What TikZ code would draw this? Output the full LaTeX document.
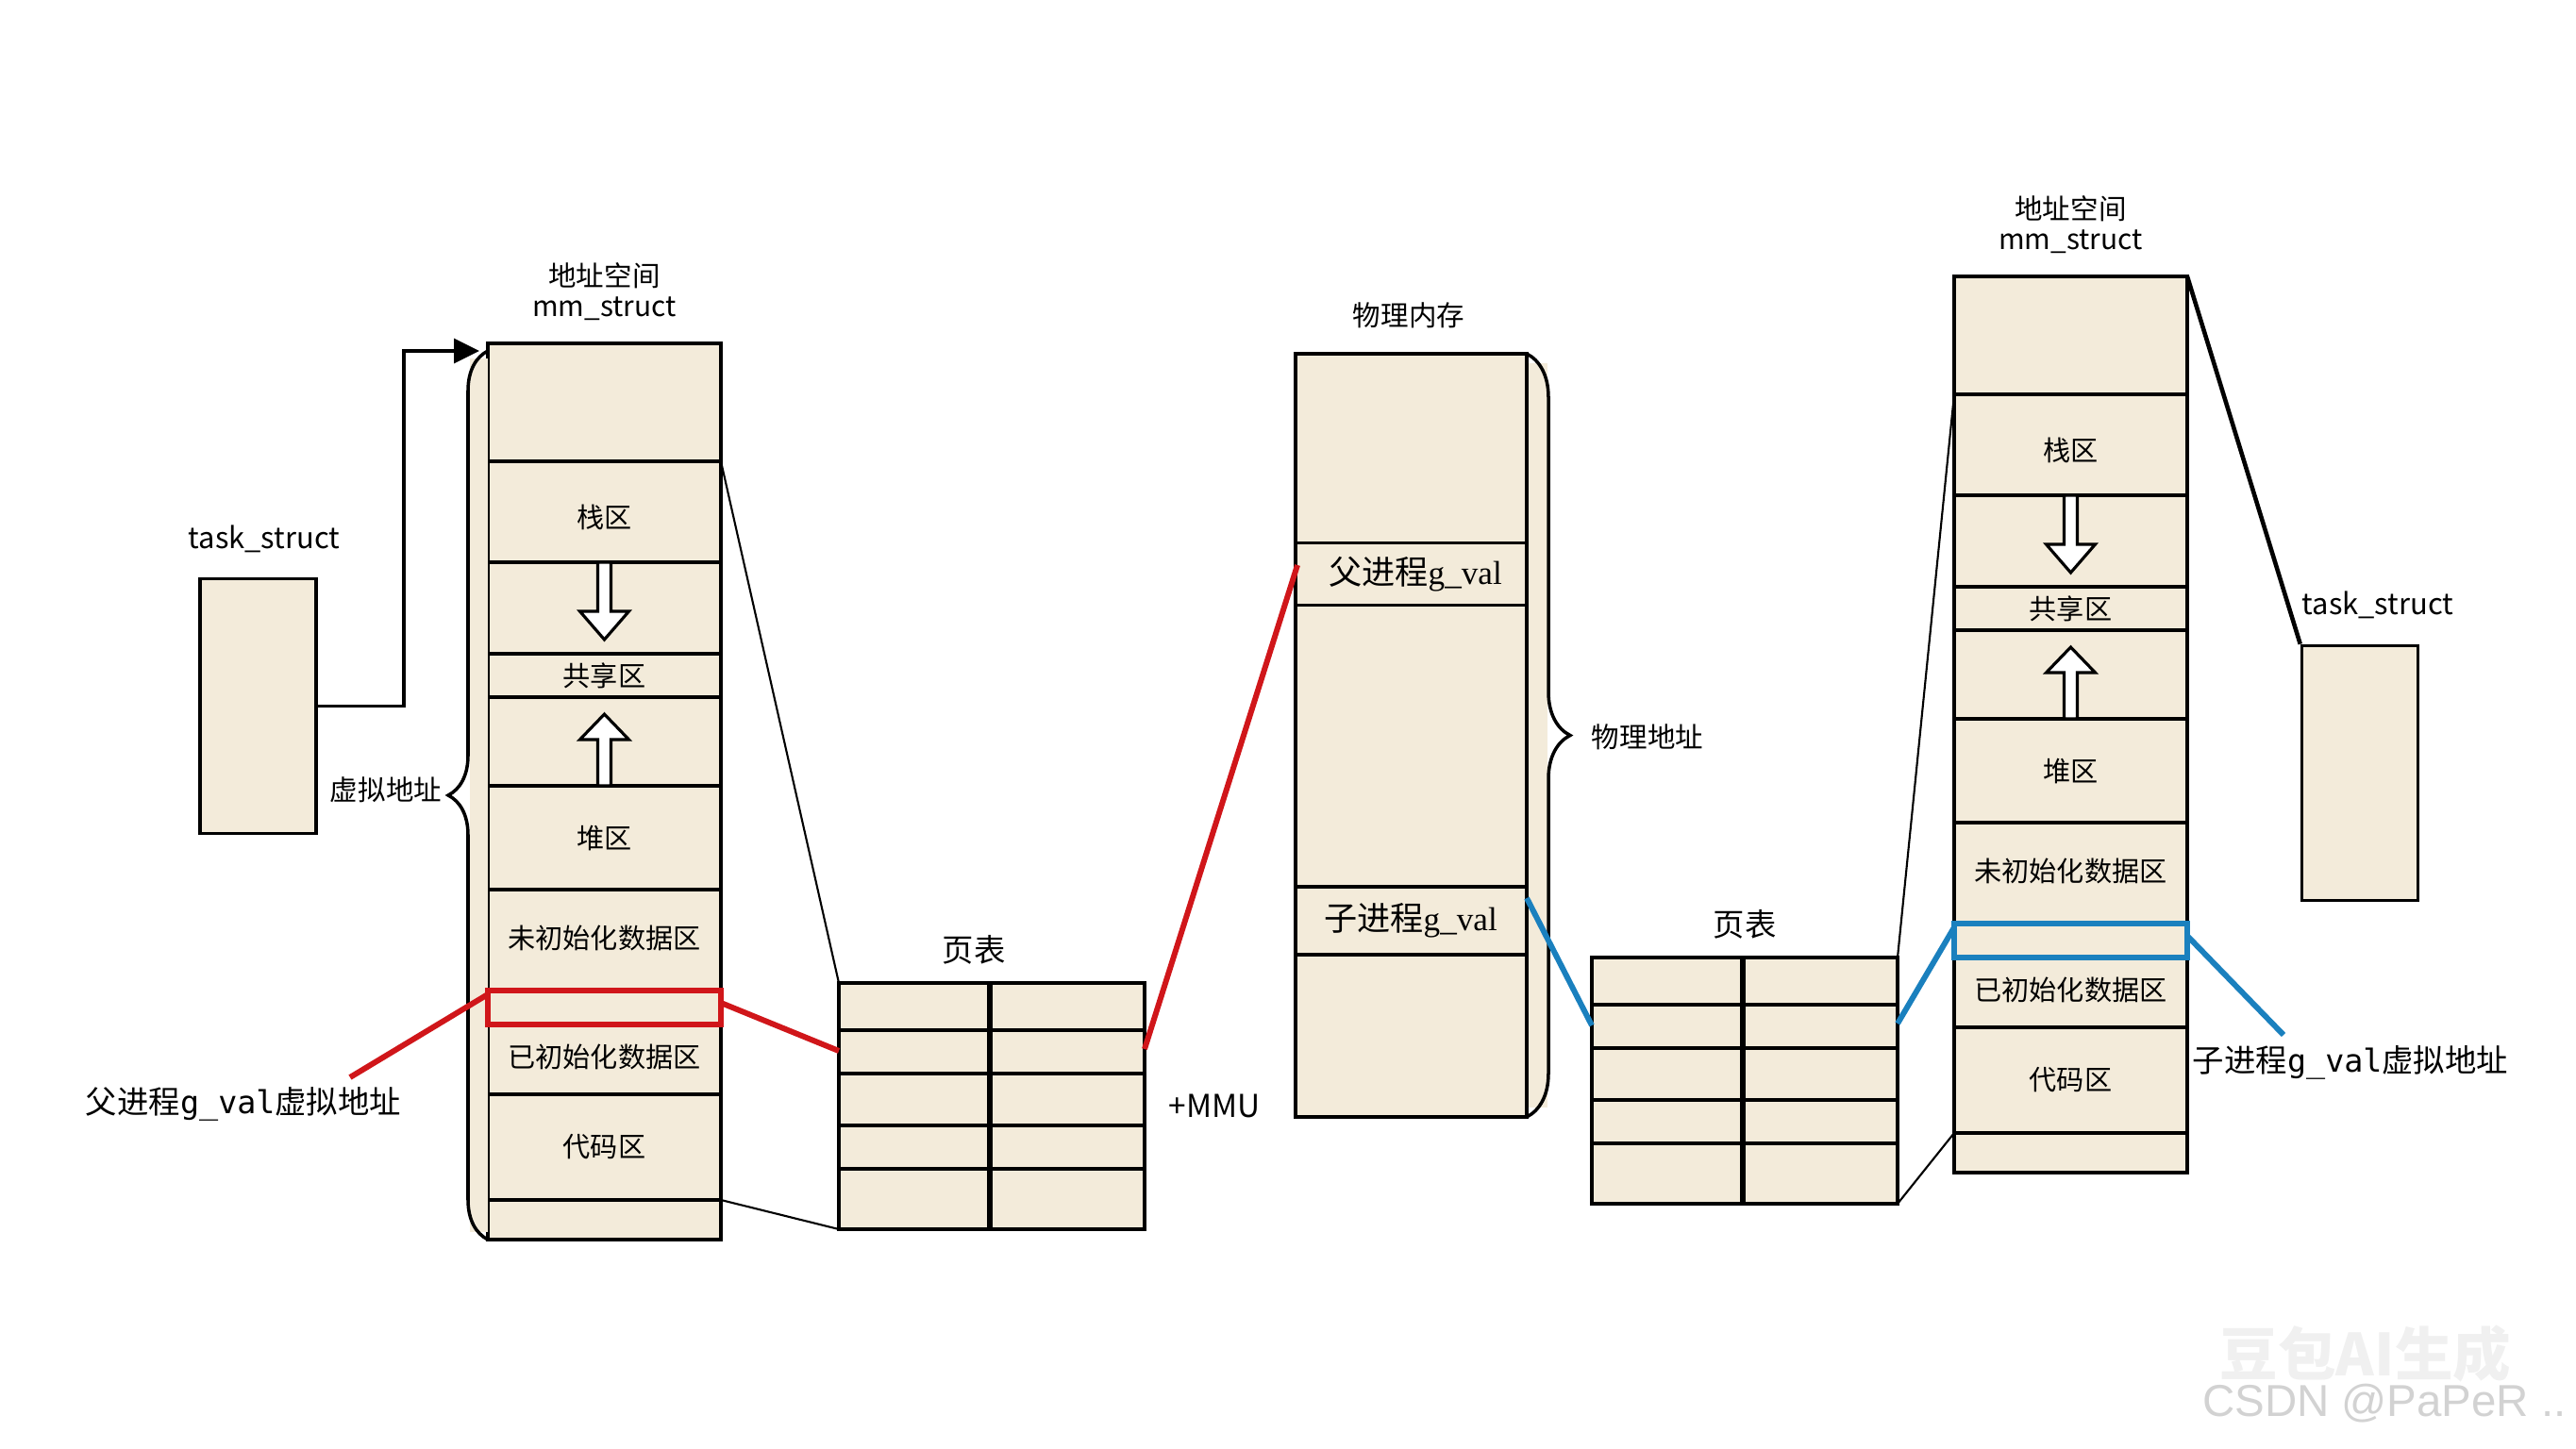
\documentclass[tikz,border=0pt]{standalone}
\usepackage{fontspec}
\setmainfont{Noto Sans CJK SC}
\newfontfamily\valfont{Liberation Serif}
\newfontfamily\monofont{DejaVu Sans Mono}
\newfontfamily\wmfont{Liberation Sans}
\usetikzlibrary{positioning}
\usetikzlibrary{calc}
\usetikzlibrary{arrows.meta}
\usetikzlibrary{decorations.pathreplacing}
\definecolor{cell}{RGB}{243,235,218}
\definecolor{red}{RGB}{208,22,26}
\definecolor{blue}{RGB}{26,128,190}

\begin{document}
\begin{tikzpicture}[
    cellbox/.style={draw, fill=cell, line width=1pt},
    tablebox/.style={draw, fill=cell, line width=1.2pt},
    taskbox/.style={draw, fill=cell, line width=1pt, inner sep=0pt, minimum width=1.23cm, minimum height=2.70cm},
    hollow/.style={draw, fill=white, line width=0.9pt},
    areatxt/.style={font=\fontsize{8.3}{9}\selectfont, inner sep=0pt},
    captxt/.style={font=\fontsize{8.4}{9}\selectfont, inner sep=0pt},
    latintxt/.style={font=\fontsize{8.8}{10}\selectfont, inner sep=0pt},
    bigtxt/.style={font=\fontsize{9.5}{11}\selectfont, inner sep=0pt},
    memtxt/.style={font=\fontsize{10}{12}\selectfont, inner sep=0pt},
    thinline/.style={line width=0.6pt},
    redline/.style={red, line width=1.7pt},
    blueline/.style={blue, line width=1.7pt}
]
\useasboundingbox (0,0) rectangle (27.30,-15.35);

% address spaces: parent (L) and child (R)
\foreach \n/\x/\y in {L/5.17/-3.64, R/20.71/-2.93} {
    \draw[cellbox] (\x,\y) rectangle ++(2.47,-9.50);
    \foreach \r in {1.25,2.32,3.29,3.75,4.69,5.79,6.86,7.22,7.96,9.08}
        \draw[line width=1pt] (\x,\y-\r) -- ++(2.47,0);
    \node[captxt] (space\n) at (\x+1.235,\y+0.72) {地址空间};
    \node[latintxt, font=\fontsize{8.5}{10}\selectfont] (mm\n) at (\x+1.235,\y+0.37) {mm\_struct};
    \node[areatxt] (stack\n) at (\x+1.235,\y-1.84) {栈区};
    \node[areatxt] (shared\n) at (\x+1.235,\y-3.52) {共享区};
    \node[areatxt] (heap\n) at (\x+1.235,\y-5.24) {堆区};
    \node[areatxt] (bss\n) at (\x+1.235,\y-6.30) {未初始化数据区};
    \node[areatxt] (data\n) at (\x+1.235,\y-7.56) {已初始化数据区};
    \node[areatxt] (text\n) at (\x+1.235,\y-8.52) {代码区};
    % stack grows down, heap grows up
    \draw[hollow] (\x+1.165,\y-2.32) -- (\x+1.165,\y-2.84) -- (\x+0.975,\y-2.84) -- (\x+1.235,\y-3.14)
        -- (\x+1.495,\y-2.84) -- (\x+1.305,\y-2.84) -- (\x+1.305,\y-2.32) -- cycle;
    \draw[hollow] (\x+1.165,\y-4.69) -- (\x+1.165,\y-4.20) -- (\x+0.975,\y-4.20) -- (\x+1.235,\y-3.93)
        -- (\x+1.495,\y-4.20) -- (\x+1.305,\y-4.20) -- (\x+1.305,\y-4.69) -- cycle;
    \coordinate (\n-top-e) at (\x+2.47,\y);
    \coordinate (\n-stk-w) at (\x,\y-1.25);
    \coordinate (\n-stk-e) at (\x+2.47,\y-1.25);
    \coordinate (\n-bot-w) at (\x,\y-9.08);
    \coordinate (\n-bot-e) at (\x+2.47,\y-9.08);
    \coordinate (\n-hl-nw) at (\x,\y-6.86);
    \coordinate (\n-hl-se) at (\x+2.47,\y-7.22);
    \coordinate (\n-hl-w) at (\x,\y-6.90);
    \coordinate (\n-hl-e) at (\x+2.47,\y-6.99);
}

% virtual address brace
\fill[cell] (4.98,-3.80) rectangle (5.17,-13.06);
\draw[line width=1pt, decorate, decoration={brace, amplitude=0.42cm}] (5.17,-13.14) -- (5.17,-3.72);
\coordinate (vtop) at (5.08,-3.72);
\node[captxt] (virt) at (4.09,-8.37) {虚拟地址};

% task_struct boxes
\node[taskbox] (taskL) at (2.735,-7.485) {};
\node[latintxt] (taskLlbl) at (2.80,-5.71) {task\_struct};
\node[taskbox] (taskR) at (25.01,-8.195) {};
\node[latintxt] (taskRlbl) at (25.20,-6.41) {task\_struct};
\draw[line width=1pt, -{Triangle[length=0.27cm,width=0.26cm]}] (taskL.east) -- ++(0.91,0) |- (vtop);
\draw[line width=1.3pt] (R-top-e) -- (taskR.north west);

% page tables
\foreach \n/\x/\y/\lx in {1/8.89/-10.42/1.43, 2/16.87/-10.15/1.62} {
    \draw[tablebox] (\x,\y) rectangle ++(3.24,-2.61);
    \foreach \r in {0.50,0.96,1.51,1.97}
        \draw[line width=1.2pt] (\x,\y-\r) -- ++(3.24,0);
    \draw[line width=1.8pt] (\x+1.60,\y) -- ++(0,-2.61);
    \node[bigtxt] (ptlbl\n) at (\x+\lx,\y+0.35) {页表};
    \coordinate (pt\n-nw) at (\x,\y);
    \coordinate (pt\n-ne) at (\x+3.24,\y);
    \coordinate (pt\n-sw) at (\x,\y-2.61);
    \coordinate (pt\n-se) at (\x+3.24,\y-2.61);
    \coordinate (pt\n-w2) at (\x,\y-0.72);
    \coordinate (pt\n-e2) at (\x+3.24,\y-0.70);
}
\node[bigtxt] (mmu) at (12.87,-11.72) {+MMU};

% physical memory
\fill[cell] (16.18,-3.85) rectangle (16.40,-11.74);
\draw[cellbox] (13.73,-3.75) rectangle (16.18,-11.84);
\draw[line width=1pt, decorate, decoration={brace, amplitude=0.46cm}] (16.18,-3.75) -- (16.18,-11.84);
\foreach \r in {5.755,6.416,9.40,10.12}
    \draw[line width=1pt] (13.73,-\r) -- (16.18,-\r);
\node[captxt] (phys) at (14.93,-3.34) {物理内存};
\node[captxt] (physaddr) at (17.46,-7.81) {物理地址};
\node[memtxt] (pval) at (15.00,-6.085) {父进程{\valfont g\_val}};
\node[memtxt] (cval) at (14.95,-9.76) {子进程{\valfont g\_val}};
\coordinate (pcell-w) at (13.75,-5.99);
\coordinate (ccell-e) at (16.18,-9.52);

% page table lines
\draw[thinline] (L-stk-e) -- (pt1-nw);
\draw[thinline] (L-bot-e) -- (pt1-sw);
\draw[thinline] (pt2-ne) -- (R-stk-w);
\draw[thinline] (pt2-se) -- (R-bot-w);

% parent g_val
\draw[red, line width=1.5pt] (L-hl-nw) rectangle (L-hl-se);
\node[bigtxt] (pvL) at (2.58,-11.70) {父进程{\monofont g\_val}虚拟地址};
\coordinate (pvL-tip) at (3.71,-11.42);
\draw[redline] (pvL-tip) -- (L-hl-w);
\draw[redline] (L-hl-e) -- (pt1-w2);
\draw[redline] (pt1-e2) -- (pcell-w);

% child g_val
\draw[blue, line width=1.5pt] (R-hl-nw) rectangle (R-hl-se);
\node[bigtxt] (cvR) at (24.91,-11.26) {子进程{\monofont g\_val}虚拟地址};
\coordinate (cvR-tip) at (24.20,-10.97);
\draw[blueline] (ccell-e) -- (pt2-w2);
\draw[blueline] (pt2-e2) -- (R-hl-w);
\draw[blueline] (R-hl-e) -- (cvR-tip);

% watermark
\node[font=\fontsize{17.5}{20}\selectfont\bfseries, text=gray!12] (wm1) at (25.07,-14.35) {豆包AI生成};
\node[font=\wmfont\fontsize{13.5}{16}\selectfont, text=gray!35] (wm2) at (25.27,-14.88) {CSDN @PaPeR ..};
\end{tikzpicture}
\end{document}
